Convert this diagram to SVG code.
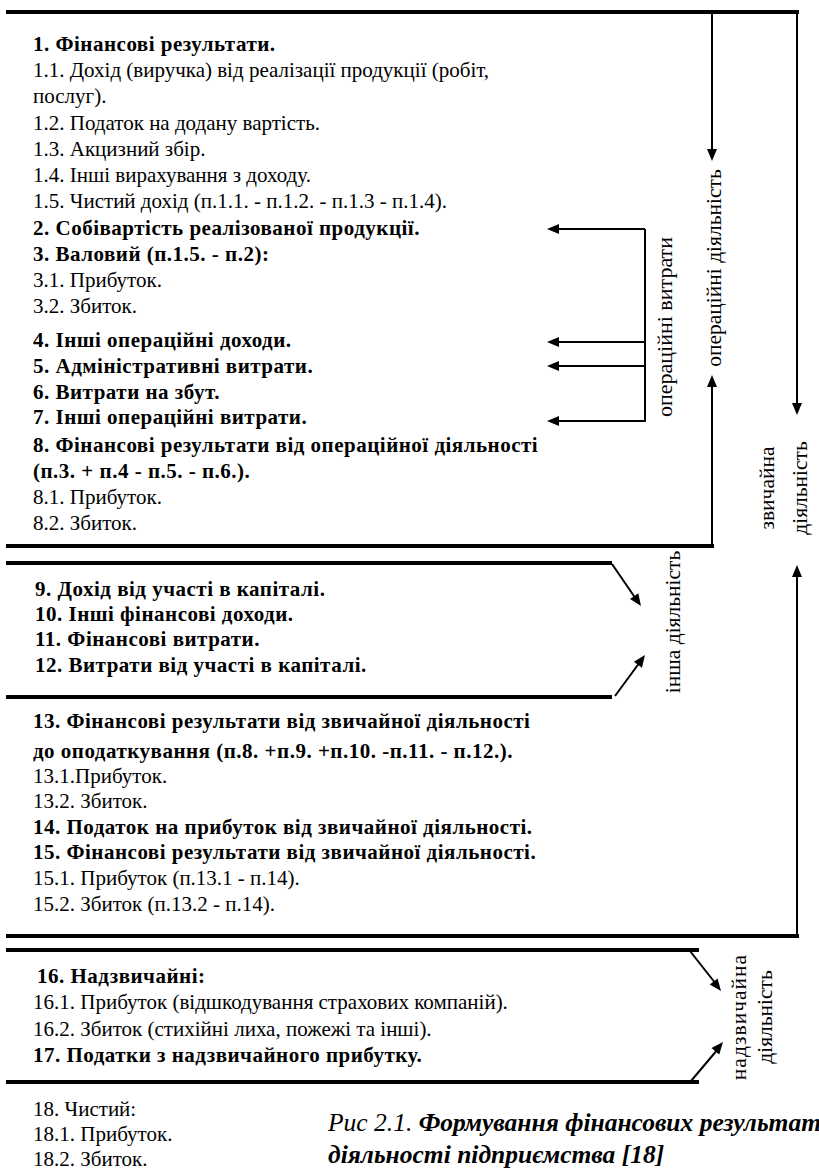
<svg xmlns="http://www.w3.org/2000/svg" width="819" height="1174" viewBox="0 0 819 1174">
  <style>
    .thick { stroke: #000; stroke-width: 4; fill: none; stroke-linecap: square; }
    .thin { stroke: #000; stroke-width: 2; fill: none; }
    .b { font-weight: bold; letter-spacing: 0.5px; }
  </style>
  <defs>
    <!-- arrowhead pointing along +x, tip at the origin -->
    <path id="tip" d="M0,0 L-12,-5 L-12,5 Z" fill="#000"/>
  </defs>

  <rect width="819" height="1174" fill="#fff"/>

  <g font-family="Liberation Serif, serif" font-size="21" fill="#000">
    <!-- block 1: operating activity -->
    <g id="block-operating">
      <text class="b" x="33" y="51">1. Фінансові результати.</text>
      <text x="33" y="77">1.1. Дохід (виручка) від реалізації продукції (робіт,</text>
      <text x="33" y="103">послуг).</text>
      <text x="33" y="130">1.2. Податок на додану вартість.</text>
      <text x="33" y="156">1.3. Акцизний збір.</text>
      <text x="33" y="182">1.4. Інші вирахування з доходу.</text>
      <text x="33" y="208">1.5. Чистий дохід (п.1.1. - п.1.2. - п.1.3 - п.1.4).</text>
      <text class="b" x="33" y="235">2. Собівартість реалізованої продукції.</text>
      <text class="b" x="33" y="261">3. Валовий (п.1.5. - п.2):</text>
      <text x="33" y="287">3.1. Прибуток.</text>
      <text x="33" y="313">3.2. Збиток.</text>
      <text class="b" x="33" y="347">4. Інші операційні доходи.</text>
      <text class="b" x="33" y="373">5. Адміністративні витрати.</text>
      <text class="b" x="33" y="399">6. Витрати на збут.</text>
      <text class="b" x="33" y="424">7. Інші операційні витрати.</text>
      <text class="b" x="33" y="452">8. Фінансові результати від операційної діяльності</text>
      <text class="b" x="33" y="478">(п.3. + п.4 - п.5. - п.6.).</text>
      <text x="33" y="504">8.1. Прибуток.</text>
      <text x="33" y="530">8.2. Збиток.</text>
    </g>

    <!-- block 2: other activity -->
    <g id="block-other">
      <text class="b" x="35" y="596">9. Дохід від участі в капіталі.</text>
      <text class="b" x="35" y="621">10. Інші фінансові доходи.</text>
      <text class="b" x="35" y="646">11. Фінансові витрати.</text>
      <text class="b" x="35" y="672">12. Витрати від участі в капіталі.</text>
    </g>

    <!-- block 3: ordinary activity result -->
    <g id="block-ordinary">
      <text class="b" x="33" y="728">13. Фінансові результати від звичайної діяльності</text>
      <text class="b" x="33" y="758">до оподаткування (п.8. +п.9. +п.10. -п.11. - п.12.).</text>
      <text x="33" y="783">13.1.Прибуток.</text>
      <text x="33" y="808">13.2. Збиток.</text>
      <text class="b" x="33" y="834">14. Податок на прибуток від звичайної діяльності.</text>
      <text class="b" x="33" y="859">15. Фінансові результати від звичайної діяльності.</text>
      <text x="33" y="885">15.1. Прибуток (п.13.1 - п.14).</text>
      <text x="33" y="911">15.2. Збиток (п.13.2 - п.14).</text>
    </g>

    <!-- block 4: extraordinary activity -->
    <g id="block-extraordinary">
      <text class="b" x="37" y="983">16. Надзвичайні:</text>
      <text x="33" y="1009">16.1. Прибуток (відшкодування страхових компаній).</text>
      <text x="33" y="1036">16.2. Збиток (стихійні лиха, пожежі та інші).</text>
      <text class="b" x="33" y="1062">17. Податки з надзвичайного прибутку.</text>
    </g>

    <!-- block 5: net result -->
    <g id="block-net">
      <text x="33" y="1116">18. Чистий:</text>
      <text x="33" y="1141">18.1. Прибуток.</text>
      <text x="33" y="1166">18.2. Збиток.</text>
    </g>

    <!-- side labels, read bottom to top -->
    <g font-size="21.5" text-anchor="middle">
      <g id="label-op-activity">
        <text transform="translate(721,268) rotate(-90)">операційні діяльність</text>
      </g>
      <g id="label-op-costs">
        <text transform="translate(672,327) rotate(-90)" font-size="22">операційні витрати</text>
      </g>
      <g id="label-ordinary">
        <text transform="translate(774,488) rotate(-90)">звичайна</text>
        <text transform="translate(807,488) rotate(-90)">діяльність</text>
      </g>
      <g id="label-other">
        <text transform="translate(680,622) rotate(-90)">інша діяльність</text>
      </g>
      <g id="label-extraordinary">
        <text transform="translate(746,1017) rotate(-90)" letter-spacing="1">надзвичайна</text>
        <text transform="translate(772,1017) rotate(-90)">діяльність</text>
      </g>
    </g>

    <!-- caption -->
    <g id="caption" font-size="25.5" font-style="italic">
      <text x="328" y="1131">Рис 2.1. <tspan font-weight="bold">Формування фінансових результат</tspan></text>
      <text x="328" y="1163" font-weight="bold">діяльності підприємства [18]</text>
    </g>
  </g>

  <!-- connectors and frame lines -->
  <g id="connectors">
    <!-- frame of block 1 -->
    <path class="thick" d="M8,12 H797"/>
    <path class="thick" d="M8,546 H712"/>
    <path class="thin" d="M712,12 V152"/>
    <use href="#tip" transform="translate(712,161) rotate(90)"/>
    <path class="thin" d="M712,546 V384"/>
    <use href="#tip" transform="translate(712,375) rotate(-90)"/>
    <!-- outer ordinary-activity bracket -->
    <path class="thin" d="M797,12 V406"/>
    <use href="#tip" transform="translate(797,415) rotate(90)"/>
    <path class="thin" d="M797,936 V574"/>
    <use href="#tip" transform="translate(797,565) rotate(-90)"/>
    <path class="thick" d="M8,936 H797"/>
    <!-- operating costs bracket -->
    <path class="thin" d="M645,229 V422 M645,229 H556 M645,342 H556 M645,366 H556 M645,421 H556"/>
    <use href="#tip" transform="translate(547,229) rotate(180)"/>
    <use href="#tip" transform="translate(547,342) rotate(180)"/>
    <use href="#tip" transform="translate(547,366) rotate(180)"/>
    <use href="#tip" transform="translate(547,421) rotate(180)"/>
    <!-- block 2 frame -->
    <path class="thick" d="M8,563 H610"/>
    <path class="thick" d="M8,697 H610"/>
    <path class="thin" d="M612,564 L636,599"/>
    <use href="#tip" transform="translate(641,606) rotate(55.4)"/>
    <path class="thin" d="M615,696 L640,662"/>
    <use href="#tip" transform="translate(645,655) rotate(-53.8)"/>
    <!-- block 4 frame -->
    <path class="thick" d="M8,950 H697"/>
    <path class="thick" d="M8,1082 H697"/>
    <path class="thin" d="M690,951 L716,984"/>
    <use href="#tip" transform="translate(721,991) rotate(52.2)"/>
    <path class="thin" d="M691,1081 L718,1049"/>
    <use href="#tip" transform="translate(723,1042) rotate(-50.6)"/>
  </g>
</svg>
